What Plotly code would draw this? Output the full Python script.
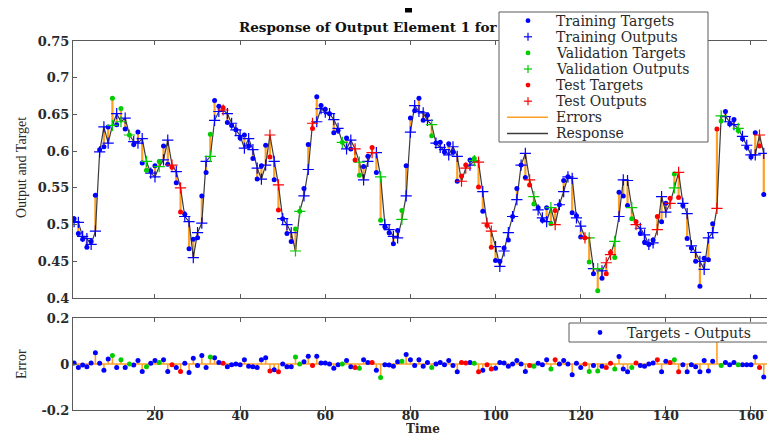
import plotly.graph_objects as go

# ---------------- data ----------------
time = list(range(1, 164))

outputs = [
    0.504, 0.503, 0.484, 0.481, 0.473, 0.491, 0.599, 0.633, 0.611, 0.635,
    0.651, 0.640, 0.645, 0.622, 0.613, 0.611, 0.617, 0.586, 0.570, 0.565,
    0.579, 0.588, 0.615, 0.581, 0.572, 0.550, 0.511, 0.504, 0.455, 0.489,
    0.502, 0.586, 0.593, 0.642, 0.654, 0.656, 0.651, 0.638, 0.629, 0.621,
    0.604, 0.617, 0.602, 0.577, 0.562, 0.581, 0.622, 0.586, 0.554, 0.508,
    0.500, 0.489, 0.464, 0.518, 0.539, 0.575, 0.638, 0.640, 0.658, 0.653,
    0.651, 0.643, 0.631, 0.612, 0.603, 0.615, 0.603, 0.585, 0.561, 0.586,
    0.598, 0.598, 0.565, 0.500, 0.493, 0.484, 0.482, 0.507, 0.539, 0.626,
    0.662, 0.654, 0.652, 0.642, 0.636, 0.611, 0.605, 0.602, 0.595, 0.606,
    0.593, 0.559, 0.577, 0.581, 0.587, 0.585, 0.545, 0.502, 0.491, 0.470,
    0.443, 0.464, 0.489, 0.511, 0.534, 0.581, 0.597, 0.561, 0.538, 0.520,
    0.509, 0.504, 0.523, 0.500, 0.527, 0.545, 0.565, 0.563, 0.509, 0.498,
    0.482, 0.482, 0.440, 0.440, 0.437, 0.448, 0.459, 0.477, 0.511, 0.561,
    0.560, 0.523, 0.500, 0.495, 0.486, 0.473, 0.475, 0.493, 0.538, 0.517,
    0.529, 0.550, 0.571, 0.529, 0.515, 0.471, 0.462, 0.450, 0.439, 0.482,
    0.489, 0.522, 0.648, 0.647, 0.640, 0.636, 0.631, 0.620, 0.608, 0.595,
    0.595, 0.622, 0.597,
]

errors = [
    0.004, -0.015, -0.004, -0.012, 0.004, 0.049, 0.003, -0.027, 0.022, 0.037,
    -0.015, 0.018, -0.015, 0.000, -0.004, 0.015, -0.033, -0.012, 0.003, 0.015,
    0.007, 0.019, -0.033, -0.003, -0.015, -0.033, 0.003, -0.037, 0.025, -0.007,
    0.037, -0.015, 0.030, 0.027, 0.007, 0.003, -0.012, -0.003, 0.000, -0.003,
    0.018, -0.010, -0.012, -0.015, 0.018, 0.027, -0.030, -0.025, -0.034, 0.000,
    -0.012, -0.012, 0.030, 0.000, 0.010, 0.034, -0.007, 0.034, 0.004, 0.004,
    0.000, -0.018, -0.003, 0.000, 0.015, -0.012, -0.015, -0.018, 0.018, 0.007,
    0.007, -0.027, -0.059, -0.003, -0.004, -0.010, 0.010, 0.012, 0.041, 0.019,
    -0.007, 0.018, -0.010, 0.007, -0.015, 0.000, 0.007, -0.003, 0.015, -0.007,
    -0.034, 0.007, 0.004, 0.007, 0.003, -0.034, -0.027, -0.003, -0.022, -0.019,
    0.007, 0.004, -0.010, 0.000, 0.015, 0.000, -0.033, -0.007, -0.010, 0.003,
    -0.003, 0.019, -0.022, 0.019, 0.000, 0.015, 0.000, -0.047, 0.003, -0.015,
    0.000, -0.033, -0.007, -0.030, -0.010, -0.015, 0.003, -0.022, 0.033, -0.022,
    -0.034, -0.015, 0.004, -0.007, -0.010, 0.000, 0.004, 0.018, -0.034, 0.012,
    0.007, 0.019, -0.034, -0.003, -0.034, -0.003, -0.012, -0.034, 0.015, -0.030,
    0.012, 0.108, -0.007, 0.007, -0.003, 0.007, -0.003, -0.003, -0.003, -0.003,
    0.030, -0.015, -0.056,
]

# B = training, G = validation, R = test
subset = list(
    "BBBBBBBBBG" "BGBGBBBGBB" "GBBRBRBBBB" "BBGBBRBBBB" "BBBBBBRBRB"
    "BBGGBBRBBB" "BBBGBBRGBB" "RBGBBBBGBB" "BBBBGBBBBB" "BRRBGRBRRB"
    "BBBBBBBRGB" "BBGRBBBBBB" "RGBGBRRGBB" "BGRBBBBRBB" "RGRBBBBBBB"
    "BRGBBBGBBB" "BRB"
)

targets = [o + e for o, e in zip(outputs, errors)]

y_ticks_top = [0.4, 0.45, 0.5, 0.55, 0.6, 0.65, 0.7, 0.75]
y_ticktext_top = ["0.4", "0.45", "0.5", "0.55", "0.6", "0.65", "0.7", "0.75"]
y_ticks_bot = [-0.2, 0, 0.2]
y_ticktext_bot = ["-0.2", "0", "0.2"]
x_ticks = [20, 40, 60, 80, 100, 120, 140, 160]

legend_labels = ["Training Targets", "Training Outputs", "Validation Targets",
                 "Validation Outputs", "Test Targets", "Test Outputs",
                 "Errors", "Response"]

# ---------------- styling ----------------
W, H = 767, 437
COL = {"B": "#0000FF", "G": "#00CC00", "R": "#FF0000"}
ORANGE = "#FFA024"
RESP = "#3c3c3c"
AXC = "#5a5a5a"
TXT = "#2a2a2a"
SERIF = "DejaVu Serif"


def X(p):
    return p / W


def Y(p):
    return 1 - p / H


fig = go.Figure()

# errors (top panel): vertical segments target -> output
ex, ey = [], []
for t, tg, o in zip(time, targets, outputs):
    ex += [t, t, None]
    ey += [tg, o, None]
fig.add_trace(go.Scatter(x=ex, y=ey, mode="lines", name="Errors",
                         line=dict(color=ORANGE, width=2.2),
                         xaxis="x", yaxis="y"))

# response
fig.add_trace(go.Scatter(x=time, y=outputs, mode="lines", name="Response",
                         line=dict(color=RESP, width=1.2),
                         xaxis="x", yaxis="y"))

for k in ["B", "G", "R"]:
    tt = [t for t, s in zip(time, subset) if s == k]
    tg = [v for v, s in zip(targets, subset) if s == k]
    oo = [v for v, s in zip(outputs, subset) if s == k]
    fig.add_trace(go.Scatter(
        x=tt, y=tg, mode="markers",
        marker=dict(symbol="circle", size=5, color=COL[k]),
        xaxis="x", yaxis="y"))
    fig.add_trace(go.Scatter(
        x=tt, y=oo, mode="markers",
        marker=dict(symbol="cross-thin", size=8, color=COL[k],
                    line=dict(color=COL[k], width=1.2)),
        xaxis="x", yaxis="y"))

# error panel stems
sx, sy = [], []
for t, e in zip(time, errors):
    sx += [t, t, None]
    sy += [0, e, None]
fig.add_trace(go.Scatter(x=sx, y=sy, mode="lines",
                         line=dict(color=ORANGE, width=1.6),
                         xaxis="x2", yaxis="y2"))

for k in ["B", "G", "R"]:
    tt = [t for t, s in zip(time, subset) if s == k]
    ee = [v for v, s in zip(errors, subset) if s == k]
    fig.add_trace(go.Scatter(
        x=tt, y=ee, mode="markers",
        marker=dict(symbol="circle", size=5, color=COL[k]),
        xaxis="x2", yaxis="y2"))

xrange = [0.74, 163.76]
xdom = [X(73), 1.0]

tickfont = dict(family=SERIF, size=13, color=TXT, weight="bold")
xtickfont = dict(family=SERIF, size=12.5, color=TXT, weight="bold")

common_x = dict(range=xrange, domain=xdom, tickvals=x_ticks, ticks="inside",
                ticklen=4, tickcolor=AXC, showline=True, linecolor=AXC,
                linewidth=1, mirror="ticks", showgrid=False, zeroline=False,
                automargin=False)

# ---------- legend drawn as chrome (box, samples, labels) ----------
shapes = [
    dict(type="line", xref="x2 domain", x0=0, x1=1, yref="y2", y0=0, y1=0,
         line=dict(color=ORANGE, width=1.5), layer="below"),
    dict(type="rect", xref="paper", yref="paper",
         x0=X(405), x1=X(412), y0=Y(12.5), y1=Y(8),
         fillcolor="black", line=dict(width=0)),
    dict(type="rect", xref="paper", yref="paper", layer="above",
         x0=X(499), x1=X(708), y0=Y(142), y1=Y(12),
         fillcolor="white", line=dict(color=AXC, width=1)),
    dict(type="rect", xref="paper", yref="paper", layer="above",
         x0=X(569), x1=X(790), y0=Y(342), y1=Y(323),
         fillcolor="white", line=dict(color=AXC, width=1)),
]
annotations = []
sample_cols = [COL["B"], COL["B"], COL["G"], COL["G"], COL["R"], COL["R"],
               ORANGE, RESP]
for i, lab in enumerate(legend_labels):
    yc = 20.7 + 16.1 * i
    c = sample_cols[i]
    if i < 6 and i % 2 == 0:
        shapes.append(dict(type="circle", xref="paper", yref="paper",
                           layer="above", x0=X(525.6), x1=X(530.4),
                           y0=Y(yc + 2.4), y1=Y(yc - 2.4),
                           fillcolor=c, line=dict(width=0)))
    elif i < 6:
        shapes.append(dict(type="line", xref="paper", yref="paper",
                           layer="above", x0=X(524), x1=X(532),
                           y0=Y(yc), y1=Y(yc), line=dict(color=c, width=1.2)))
        shapes.append(dict(type="line", xref="paper", yref="paper",
                           layer="above", x0=X(528), x1=X(528),
                           y0=Y(yc + 4), y1=Y(yc - 4),
                           line=dict(color=c, width=1.2)))
    else:
        shapes.append(dict(type="line", xref="paper", yref="paper",
                           layer="above", x0=X(507), x1=X(548),
                           y0=Y(yc), y1=Y(yc),
                           line=dict(color=c, width=1.5)))
    annotations.append(dict(text=lab, xref="paper", yref="paper",
                            x=X(554), y=Y(yc), xanchor="left",
                            yanchor="middle", showarrow=False,
                            font=dict(family=SERIF, size=14, color=TXT)))

shapes.append(dict(type="circle", xref="paper", yref="paper", layer="above",
                   x0=X(597.6), x1=X(602.4), y0=Y(334.9), y1=Y(330.1),
                   fillcolor=COL["B"], line=dict(width=0)))
annotations.append(dict(text="Targets - Outputs", xref="paper", yref="paper",
                        x=X(625), y=Y(332.5), xanchor="left", yanchor="middle",
                        showarrow=False,
                        font=dict(family=SERIF, size=14, color=TXT)))

annotations += [
    dict(text="Response of Output Element 1 for", xref="paper", yref="paper",
         x=X(237), y=Y(27), xanchor="left", yanchor="middle",
         showarrow=False,
         font=dict(family=SERIF, size=13.5, color="#111", weight="bold")),
    dict(text="Output and Target", xref="paper", yref="paper",
         x=X(21), y=Y(168), textangle=-90, showarrow=False,
         xanchor="center", yanchor="middle",
         font=dict(family="Liberation Serif", size=14, color=TXT)),
    dict(text="Error", xref="paper", yref="paper",
         x=X(21), y=Y(364), textangle=-90, showarrow=False,
         xanchor="center", yanchor="middle",
         font=dict(family="Liberation Serif", size=14, color=TXT)),
    dict(text="Time", xref="paper", yref="paper",
         x=X(423), y=Y(437), showarrow=False, height=12,
         xanchor="center", yanchor="bottom",
         font=dict(family=SERIF, size=12, color=TXT, weight="bold")),
]

fig.update_layout(
    width=W, height=H, autosize=False,
    margin=dict(l=0, r=0, t=0, b=0, pad=0),
    paper_bgcolor="white", plot_bgcolor="white",
    showlegend=False,
    xaxis=dict(**common_x, anchor="y", showticklabels=False),
    yaxis=dict(range=[0.4, 0.75], domain=[Y(298), Y(41)],
               tickvals=y_ticks_top, ticktext=y_ticktext_top, ticks="inside",
               ticklen=4, tickcolor=AXC, showline=True, linecolor=AXC,
               linewidth=1, mirror=False, showgrid=False, zeroline=False,
               tickfont=tickfont, anchor="x", automargin=False),
    xaxis2=dict(**common_x, anchor="y2", showticklabels=True,
                tickfont=xtickfont, ticklabelstandoff=-6),
    yaxis2=dict(range=[-0.2, 0.2], domain=[Y(410), Y(318)],
                tickvals=y_ticks_bot, ticktext=y_ticktext_bot, ticks="inside",
                ticklen=4, tickcolor=AXC, showline=True, linecolor=AXC,
                linewidth=1, mirror=False, showgrid=False, zeroline=False,
                tickfont=tickfont, anchor="x2", automargin=False),
    shapes=shapes,
    annotations=annotations,
)

fig.write_html(
    "out.html",
    config={"displayModeBar": False},
    post_script="document.body.style.margin='0px';"
                "document.body.style.overflow='hidden';",
)
